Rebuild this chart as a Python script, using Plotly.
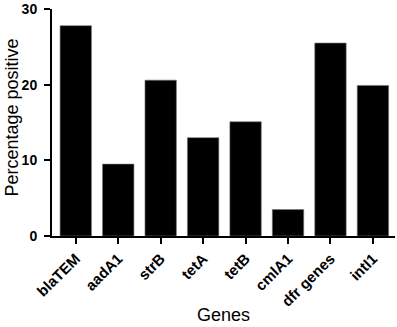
import plotly.graph_objects as go

genes = ["blaTEM", "aadA1", "strB", "tetA", "tetB", "cmlA1", "dfr genes", "intI1"]
percent_positive = [27.8, 9.5, 20.6, 13.0, 15.1, 3.5, 25.5, 19.9]
y_ticks = [0, 10, 20, 30]

FAM = "Liberation Sans, Arial, sans-serif"

fig = go.Figure(go.Bar(
    x=genes, y=percent_positive,
    marker=dict(color="black", line=dict(color="#777777", width=0.6)),
    width=0.74,
))

fig.update_layout(
    width=397, height=327,
    margin=dict(l=52, r=2, t=9, b=91, autoexpand=False),
    paper_bgcolor="white", plot_bgcolor="white",
    showlegend=False,
)
fig.update_xaxes(
    range=[-0.56, 7.52],
    tickangle=-45,
    ticks="outside", ticklen=6, tickwidth=2, tickcolor="black",
    showline=True, linewidth=2, linecolor="black",
    showgrid=False, zeroline=False, automargin=False,
    tickfont=dict(family=FAM, size=15, color="black", weight="bold"),
)
fig.update_yaxes(
    range=[0, 30],
    tickvals=y_ticks,
    ticks="outside", ticklen=6, tickwidth=2, tickcolor="black",
    showline=True, linewidth=2, linecolor="black",
    showgrid=False, zeroline=False, automargin=False,
    ticklabelstandoff=4,
    tickfont=dict(family=FAM, size=14, color="black", weight="bold"),
)
fig.add_annotation(
    text="Genes", xref="paper", yref="paper", x=0.5, y=-0.35,
    xanchor="center", yanchor="middle", showarrow=False,
    font=dict(family=FAM, size=18, color="black"),
)
fig.add_annotation(
    text="Percentage positive", xref="paper", yref="paper", x=-0.118, y=0.52,
    xanchor="center", yanchor="middle", textangle=-90, showarrow=False,
    font=dict(family=FAM, size=18, color="black"),
)

fig.write_html("out.html", config={"displayModeBar": False},
               post_script="document.body.style.margin='0px';")
